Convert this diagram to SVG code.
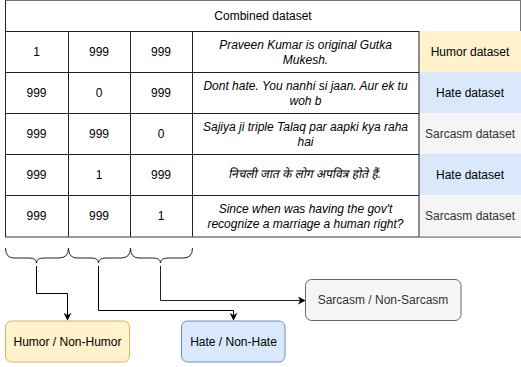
<svg xmlns="http://www.w3.org/2000/svg" width="521" height="367" viewBox="0 0 521 367">
<style>
text{font-family:"Liberation Sans","Noto Sans","Noto Sans Devanagari",sans-serif;font-size:12px;text-anchor:middle;dominant-baseline:central;fill:#000}
.it{font-style:italic}
.gray{fill:#333}
.grid{stroke:#222;stroke-width:1;fill:none}
.outer{stroke:#777;stroke-width:1;fill:none}
.brace{stroke:#222;stroke-width:1;fill:none}
.conn{stroke:#000;stroke-width:1;fill:none}
</style>
<defs>
<marker id="arr" viewBox="0 0 10 10" refX="9" refY="5" markerWidth="8" markerHeight="8" markerUnits="userSpaceOnUse" orient="auto">
<path d="M0,0 L10,5 L0,10 L3,5 Z" fill="#000"/>
</marker>
</defs>
<g id="table">
<rect x="5.5" y="0.5" width="515" height="236.5" fill="#fff" class="outer"/>
<rect x="419" y="31" width="102" height="41" fill="#fff2cc"/>
<rect x="419" y="72" width="102" height="41" fill="#dae8fc"/>
<rect x="419" y="113" width="102" height="41" fill="#f5f5f5"/>
<rect x="419" y="154" width="102" height="41" fill="#dae8fc"/>
<rect x="419" y="195" width="102" height="42" fill="#f5f5f5"/>
<path class="grid" d="M5.5,31.5H419M5.5,72.5H419M5.5,113.5H419M5.5,154.5H419M5.5,195.5H419M5.5,0.5V237M68.5,31V237M130.5,31V237M192.5,31V237M419,31V237"/>
<path class="outer" d="M5.5,237H520.5"/>
<text x="263" y="16">Combined dataset</text>
<text x="36.5" y="52">1</text><text x="99" y="52">999</text><text x="161" y="52">999</text>
<text x="36.5" y="93">999</text><text x="99" y="93">0</text><text x="161" y="93">999</text>
<text x="36.5" y="134">999</text><text x="99" y="134">999</text><text x="161" y="134">0</text>
<text x="36.5" y="175">999</text><text x="99" y="175">1</text><text x="161" y="175">999</text>
<text x="36.5" y="216">999</text><text x="99" y="216">999</text><text x="161" y="216">1</text>
<text class="it" x="305.5" y="44.5">Praveen Kumar is original Gutka</text>
<text class="it" x="305.5" y="59.5">Mukesh.</text>
<text class="it" x="305.5" y="85.5">Dont hate. You nanhi si jaan. Aur ek tu</text>
<text class="it" x="305.5" y="100.5">woh b</text>
<text class="it" x="305.5" y="126.5">Sajiya ji triple Talaq par aapki kya raha</text>
<text class="it" x="305.5" y="141.5">hai</text>
<text class="it" x="0" y="0" transform="translate(305.5,174) skewX(-12)">निचली जात के लोग अपवित्र होते हैं.</text>
<text class="it" x="305.5" y="208.5">Since when was having the gov't</text>
<text class="it" x="305.5" y="223.5">recognize a marriage a human right?</text>
<text x="470" y="52">Humor dataset</text>
<text x="470" y="93">Hate dataset</text>
<text class="gray" x="470" y="134">Sarcasm dataset</text>
<text x="470" y="175">Hate dataset</text>
<text class="gray" x="470" y="216">Sarcasm dataset</text>
</g>
<g id="braces">
<path class="brace" d="M5.5,248 Q5.5,258 14,258 L29,258 Q36.5,258 36.5,263 Q36.5,258 44,258 L59,258 Q68.5,258 68.5,248"/>
<path class="brace" d="M68.5,248 Q68.5,258 77,258 L91,258 Q98.5,258 98.5,263 Q98.5,258 106,258 L121,258 Q130.5,258 130.5,248"/>
<path class="brace" d="M130.5,248 Q130.5,258 139,258 L153,258 Q160.5,258 160.5,263 Q160.5,258 168,258 L183,258 Q192.5,258 192.5,248"/>
</g>
<g id="connectors">
<path class="conn" d="M36.5,266V293.5H67.5V320" marker-end="url(#arr)"/>
<path class="conn" d="M98.5,266V310.5H233.5V320" marker-end="url(#arr)"/>
<path class="conn" style="stroke:#222" d="M160.5,266V300.5H305" marker-end="url(#arr)"/>
</g>
<g id="humor">
<rect x="5.5" y="321" width="124" height="41" rx="6" fill="#fff2cc" stroke="#d6b656"/>
<text x="67.5" y="341.5">Humor / Non-Humor</text>
</g>
<g id="hate">
<rect x="181.5" y="321" width="103.5" height="41" rx="6" fill="#dae8fc" stroke="#6c8ebf"/>
<text x="233.5" y="341.5">Hate / Non-Hate</text>
</g>
<g id="sarcasm">
<rect x="305.5" y="279.5" width="155.5" height="41" rx="6" fill="#f5f5f5" stroke="#666"/>
<text class="gray" x="383" y="300">Sarcasm / Non-Sarcasm</text>
</g>
</svg>
